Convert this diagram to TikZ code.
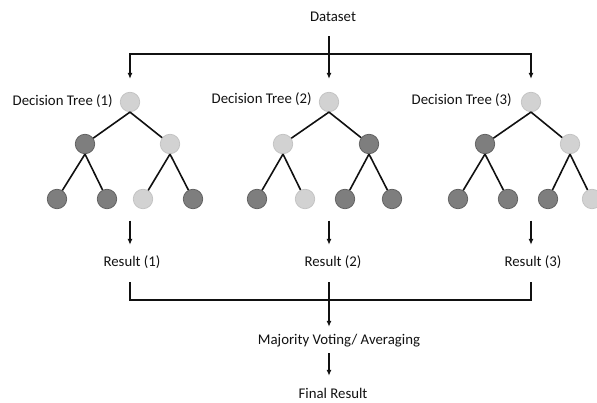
\documentclass[tikz,border=0pt]{standalone}
\usepackage{fontspec}
\setmainfont{Carlito}
\usepackage{tikz}
\usetikzlibrary{arrows.meta,positioning}
\definecolor{koyuDugum}{HTML}{7E7E7E}
\definecolor{koyuKenar}{HTML}{5E5E5E}
\definecolor{acikDugum}{HTML}{D2D2D2}
\definecolor{acikKenar}{HTML}{C2C2C2}
\definecolor{cizgiSiyah}{HTML}{111111}

\begin{document}
\begin{tikzpicture}[x=1pt,y=-1pt,font=\fontsize{14.8}{17}\selectfont,
  lbl/.style={inner sep=0pt,text height=10.5pt,text depth=3.5pt,text=cizgiSiyah},
  koyuTop/.style={circle,minimum size=19.5pt,inner sep=0pt,fill=koyuDugum,draw=koyuKenar,line width=0.7pt},
  acikTop/.style={circle,minimum size=19.5pt,inner sep=0pt,fill=acikDugum,draw=acikKenar,line width=0.7pt},
  dal/.style={line width=1.6pt,draw=cizgiSiyah},
  ok/.style={line width=1.6pt,draw=cizgiSiyah,-{Latex[length=6pt,width=5pt]}}]
\useasboundingbox (0,0) rectangle (597,403);
% Veri kumesi
\node[lbl] (data) at (333,18) {Dataset};
\coordinate (fork) at (329,54);
% Agac 1
\begin{scope}[xshift=130pt]
\node[acikTop] (r1) at (0,102) {};
\node[koyuTop] (a1) at (-45,144) {};
\node[acikTop] (b1) at (40,144) {};
\node[koyuTop] (l11) at (-73,199) {};
\node[koyuTop] (l12) at (-23,199) {};
\node[acikTop] (l13) at (13,199) {};
\node[koyuTop] (l14) at (63,199) {};
\draw[dal] (r1.south)--(a1) (r1.south)--(b1) (a1.south)--(l11) (a1.south)--(l12) (b1.south)--(l13) (b1.south)--(l14);
\node[lbl,left=7pt of r1] (t1) {Decision Tree (1)};
\node[lbl] (res1) at (2,263) {Result (1)};
\end{scope}
% Agac 2
\begin{scope}[xshift=329pt]
\node[acikTop] (r2) at (0,102) {};
\node[acikTop] (a2) at (-46,144) {};
\node[koyuTop] (b2) at (40,144) {};
\node[koyuTop] (l21) at (-72,199) {};
\node[acikTop] (l22) at (-24,199) {};
\node[koyuTop] (l23) at (16,199) {};
\node[koyuTop] (l24) at (63,199) {};
\draw[dal] (r2.south)--(a2) (r2.south)--(b2) (a2.south)--(l21) (a2.south)--(l22) (b2.south)--(l23) (b2.south)--(l24);
\node[lbl,left=7pt of r2,yshift=2pt] (t2) {Decision Tree (2)};
\node[lbl] (res2) at (4,263) {Result (2)};
\end{scope}
% Agac 3
\begin{scope}[xshift=531pt]
\node[acikTop] (r3) at (0,102) {};
\node[koyuTop] (a3) at (-46,144) {};
\node[acikTop] (b3) at (39,144) {};
\node[koyuTop] (l31) at (-73,199) {};
\node[koyuTop] (l32) at (-23,199) {};
\node[koyuTop] (l33) at (17,199) {};
\node[acikTop] (l34) at (61,199) {};
\draw[dal] (r3.south)--(a3) (r3.south)--(b3) (a3.south)--(l31) (a3.south)--(l32) (b3.south)--(l33) (b3.south)--(l34);
\node[lbl,left=9pt of r3,yshift=1pt] (t3) {Decision Tree (3)};
\node[lbl] (res3) at (2,263) {Result (3)};
\end{scope}
% Dagitim
\draw[ok,shorten <=11pt,shorten >=13pt] (r2 |- data.south) -- (r2);
\draw[ok,shorten >=13pt] (fork) -| (r1);
\draw[ok,shorten >=13pt] (fork) -| (r3);
% Sonuclar
\draw[ok,shorten <=11.5pt,shorten >=11pt] (r1 |- l12.south) -- (r1 |- res1.north);
\draw[ok,shorten <=11.5pt,shorten >=11pt] (r2 |- l22.south) -- (r2 |- res2.north);
\draw[ok,shorten <=11.5pt,shorten >=11pt] (r3 |- l32.south) -- (r3 |- res3.north);
% Birlestirme
\coordinate (merge) at (329,300);
\node[lbl] (vote) at (339,341) {Majority Voting/ Averaging};
\node[lbl] (final) at (333,395) {Final Result};
\draw[dal,shorten <=12pt,shorten >=12pt] (r1 |- res1.south) |- (merge) -| (r3 |- res3.south);
\draw[ok,shorten <=12pt,shorten >=7pt] (r2 |- res2.south) -- (r2 |- vote.north);
\draw[ok,shorten <=5pt,shorten >=12pt] (r2 |- vote.south) -- (r2 |- final.north);
\end{tikzpicture}
\end{document}
